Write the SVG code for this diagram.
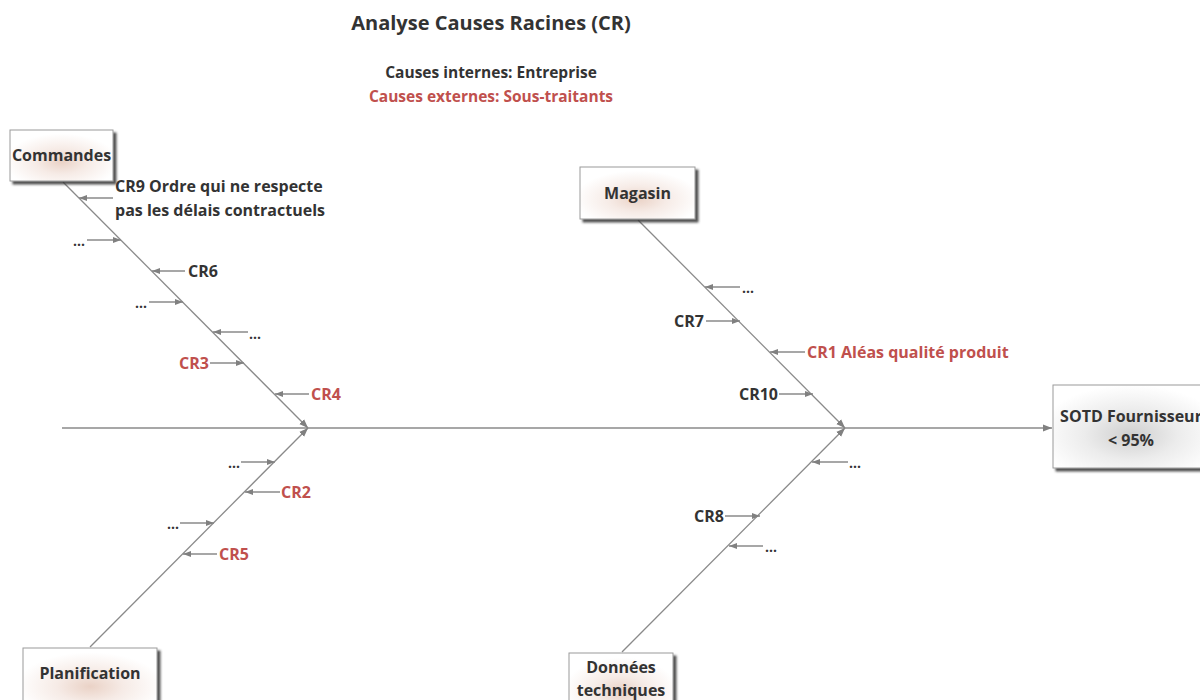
<svg xmlns="http://www.w3.org/2000/svg" width="1200" height="700" viewBox="0 0 1200 700">
<defs>
<style>
.t{font-family:"Open Sans","Liberation Sans",sans-serif;font-weight:bold;fill:#333333}
.r{fill:#c0504d}
.lbl{font-size:16px}
.box{font-size:16px}
.dot{font-size:14px}
.ln{stroke:#8a8a8a;stroke-width:1.3;fill:none}
.sub{stroke:#8a8a8a;stroke-width:1.3;fill:none;marker-end:url(#ah)}
.frame{stroke:#9a9a9a;stroke-width:1}
</style>
<marker id="ah" markerUnits="userSpaceOnUse" markerWidth="9" markerHeight="8" refX="8" refY="4" orient="auto">
<path d="M0,1 L8,4 L0,7 Z" fill="#808080"/>
</marker>
<marker id="ahb" markerUnits="userSpaceOnUse" markerWidth="10" markerHeight="10" refX="9" refY="5" orient="auto">
<path d="M0,1.5 L9,5 L0,8.5 Z" fill="#808080"/>
</marker>
<radialGradient id="gBox" cx="0.5" cy="0.62" r="0.55" fx="0.5" fy="0.62">
<stop offset="0" stop-color="#ead2c6"/>
<stop offset="0.45" stop-color="#f6ebe6"/>
<stop offset="1" stop-color="#ffffff"/>
</radialGradient>
<radialGradient id="gEff" cx="0.5" cy="0.6" r="0.6">
<stop offset="0" stop-color="#cfcfcf"/>
<stop offset="0.5" stop-color="#ececec"/>
<stop offset="1" stop-color="#ffffff"/>
</radialGradient>
<filter id="sh" x="-20%" y="-20%" width="140%" height="140%">
<feDropShadow dx="3" dy="3" stdDeviation="1.2" flood-color="#333333" flood-opacity="0.85"/>
</filter>
</defs>
<rect width="1200" height="700" fill="#ffffff"/>

<g id="title">
<text class="t" x="491" y="30" text-anchor="middle" font-size="20">Analyse Causes Racines (CR)</text>
<text class="t" x="491" y="78" text-anchor="middle" font-size="15.5">Causes internes: Entreprise</text>
<text class="t r" x="491" y="102" text-anchor="middle" font-size="15.5">Causes externes: Sous-traitants</text>
</g>

<g id="connectors">
<line class="ln" x1="62" y1="428" x2="1052" y2="428" marker-end="url(#ahb)"/>
<line class="ln" x1="63" y1="182" x2="308" y2="428" marker-end="url(#ahb)"/>
<line class="ln" x1="90" y1="647" x2="308" y2="428" marker-end="url(#ahb)"/>
<line class="ln" x1="638" y1="220" x2="845" y2="428" marker-end="url(#ahb)"/>
<line class="ln" x1="622" y1="652" x2="845" y2="428" marker-end="url(#ahb)"/>
<!-- Commandes sub-causes -->
<line class="sub" x1="113" y1="198" x2="79" y2="198"/>
<line class="sub" x1="87" y1="240" x2="121" y2="240"/>
<line class="sub" x1="185" y1="271" x2="152" y2="271"/>
<line class="sub" x1="149" y1="302" x2="183" y2="302"/>
<line class="sub" x1="248" y1="332" x2="213" y2="332"/>
<line class="sub" x1="210" y1="363" x2="244" y2="363"/>
<line class="sub" x1="309" y1="394" x2="275" y2="394"/>
<!-- Planification sub-causes -->
<line class="sub" x1="241" y1="462" x2="275" y2="462"/>
<line class="sub" x1="280" y1="492" x2="245" y2="492"/>
<line class="sub" x1="180" y1="523" x2="214" y2="523"/>
<line class="sub" x1="217" y1="554" x2="183" y2="554"/>
<!-- Magasin sub-causes -->
<line class="sub" x1="740" y1="287" x2="705" y2="287"/>
<line class="sub" x1="706" y1="321" x2="740" y2="321"/>
<line class="sub" x1="805" y1="352" x2="770" y2="352"/>
<line class="sub" x1="779" y1="394" x2="813" y2="394"/>
<!-- Donnees techniques sub-causes -->
<line class="sub" x1="848" y1="462" x2="812" y2="462"/>
<line class="sub" x1="725" y1="516" x2="760" y2="516"/>
<line class="sub" x1="763" y1="546" x2="729" y2="546"/>
</g>

<g id="labels">
<text class="t lbl" x="115" y="192">CR9 Ordre qui ne respecte</text>
<text class="t lbl" x="115" y="216">pas les délais contractuels</text>
<text class="t dot" x="85" y="246" text-anchor="end">...</text>
<text class="t lbl" x="188" y="277">CR6</text>
<text class="t dot" x="147" y="308" text-anchor="end">...</text>
<text class="t dot" x="249" y="339">...</text>
<text class="t lbl r" x="209" y="369" text-anchor="end">CR3</text>
<text class="t lbl r" x="311" y="400">CR4</text>
<text class="t dot" x="240" y="468" text-anchor="end">...</text>
<text class="t lbl r" x="281" y="498">CR2</text>
<text class="t dot" x="179" y="529" text-anchor="end">...</text>
<text class="t lbl r" x="219" y="560">CR5</text>
<text class="t dot" x="742" y="293">...</text>
<text class="t lbl" x="704" y="327" text-anchor="end">CR7</text>
<text class="t lbl r" x="807" y="358">CR1 Aléas qualité produit</text>
<text class="t lbl" x="778" y="400" text-anchor="end">CR10</text>
<text class="t dot" x="849" y="468">...</text>
<text class="t lbl" x="724" y="522" text-anchor="end">CR8</text>
<text class="t dot" x="765" y="552">...</text>
</g>

<g id="node-commandes">
<rect class="frame" x="10" y="130" width="103" height="51" fill="url(#gBox)" filter="url(#sh)"/>
<text class="t box" x="61.5" y="161" text-anchor="middle">Commandes</text>
</g>
<g id="node-magasin">
<rect class="frame" x="580" y="167" width="115" height="52" fill="url(#gBox)" filter="url(#sh)"/>
<text class="t box" x="637.5" y="199" text-anchor="middle">Magasin</text>
</g>
<g id="node-planification">
<rect class="frame" x="23" y="648" width="134" height="62" fill="url(#gBox)" filter="url(#sh)"/>
<text class="t box" x="90" y="679" text-anchor="middle">Planification</text>
</g>
<g id="node-donnees">
<rect class="frame" x="569" y="653" width="104" height="62" fill="url(#gBox)" filter="url(#sh)"/>
<text class="t box" x="621" y="673" text-anchor="middle">Données</text>
<text class="t box" x="621" y="696" text-anchor="middle">techniques</text>
</g>
<g id="node-effect">
<rect class="frame" x="1053" y="385" width="156" height="83" fill="url(#gEff)" filter="url(#sh)"/>
<text class="t box" x="1131" y="422" text-anchor="middle">SOTD Fournisseur</text>
<text class="t box" x="1131" y="446" text-anchor="middle">&lt; 95%</text>
</g>
</svg>
